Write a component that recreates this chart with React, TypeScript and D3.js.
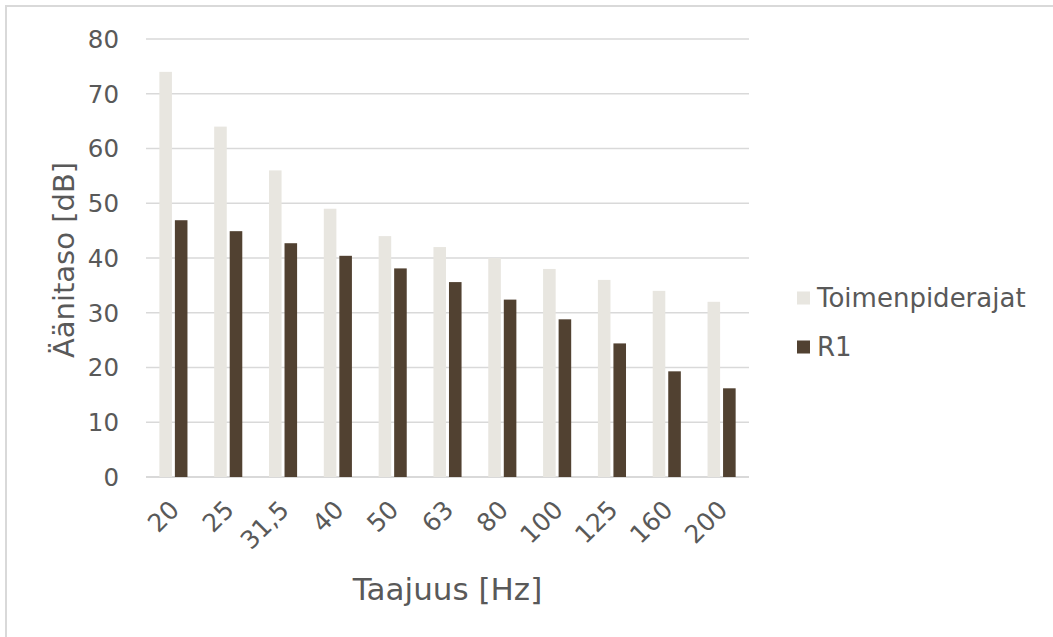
import * as d3 from "d3";

const categories = ["20", "25", "31,5", "40", "50", "63", "80", "100", "125", "160", "200"];
const toimenpiderajat = [74, 64, 56, 49, 44, 42, 40, 38, 36, 34, 32];
const r1 = [46.9, 44.9, 42.7, 40.4, 38.1, 35.6, 32.4, 28.8, 24.4, 19.3, 16.2];
const seriesNames = ["Toimenpiderajat", "R1"];
const seriesColors = ["#E8E6E0", "#514131"];
const yTicks = [0, 10, 20, 30, 40, 50, 60, 70, 80];

const font = "'DejaVu Sans', Verdana, sans-serif";
const textColor = "#595959";

export default function App() {
    const width = 1053;
    const height = 637;
    const plot = { left: 146, right: 749, top: 39, bottom: 477 };

    const x0 = d3.scaleBand<string>()
        .domain(categories)
        .range([plot.left, plot.right]);

    const x1 = d3.scaleBand<number>()
        .domain([0, 1])
        .range([0, x0.bandwidth()])
        .paddingInner(0.19)
        .paddingOuter(0.86);

    const y = d3.scaleLinear()
        .domain([0, 80])
        .range([plot.bottom, plot.top]);

    const series = [toimenpiderajat, r1];

    return (
        <svg width={width} height={height} style={{ position: "absolute", left: 0, top: 0 }}>
            <rect x={0} y={0} width={width} height={height} fill="#fff" />
            <rect x={6} y={6} width={1070} height={660} fill="none" stroke="#D9D9D9" strokeWidth={2} />

            {yTicks.map(t => (
                <g key={t}>
                    <line x1={plot.left} x2={plot.right} y1={y(t)} y2={y(t)}
                        stroke="#D9D9D9" strokeWidth={t === 0 ? 2 : 1.5} />
                    <text x={119} y={y(t)} dy="0.36em" textAnchor="end"
                        fontFamily={font} fontSize={24.5} fill={textColor}>{t}</text>
                </g>
            ))}

            {series.map((vals, s) => (
                <g key={s}>
                    {vals.map((v, i) => (
                        <rect key={i}
                            x={(x0(categories[i]) ?? 0) + (x1(s) ?? 0)}
                            y={y(v)}
                            width={x1.bandwidth()}
                            height={y(0) - y(v)}
                            fill={seriesColors[s]} />
                    ))}
                </g>
            ))}

            {categories.map(c => {
                const cx = (x0(c) ?? 0) + x0.bandwidth() / 2;
                return (
                    <text key={c} transform={`translate(${cx - 5},${499}) rotate(-45)`}
                        textAnchor="end" dy="0.7em"
                        fontFamily={font} fontSize={25} fill={textColor}>{c}</text>
                );
            })}

            <text transform={`translate(74,260) rotate(-90)`}
                textAnchor="middle" fontFamily={font} fontSize={29} fill={textColor}>Äänitaso [dB]</text>
            <text x={(plot.left + plot.right) / 2} y={600} textAnchor="middle"
                fontFamily={font} fontSize={31} fill={textColor}>Taajuus [Hz]</text>

            {seriesNames.map((n, s) => (
                <g key={n} transform={`translate(797,${298 + s * 49})`}>
                    <rect x={0} y={-6.5} width={13} height={13} fill={seriesColors[s]} />
                    <text x={20} y={0} dy="0.36em" fontFamily={font} fontSize={26} fill={textColor}>{n}</text>
                </g>
            ))}
        </svg>
    );
}
